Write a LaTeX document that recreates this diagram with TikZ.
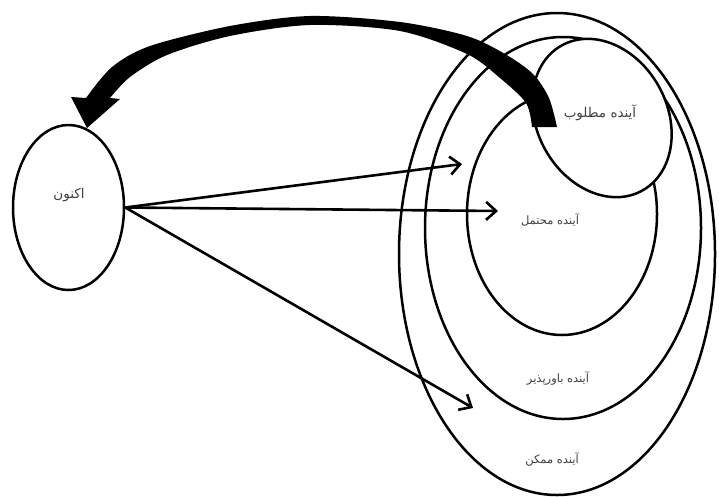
\documentclass[tikz,border=0pt]{standalone}
\usepackage{fontspec}
\TeXXeTstate=1
\newfontfamily\arabicfont[Script=Arabic]{DejaVu Sans}
\usetikzlibrary{shapes.geometric,arrows.meta}
\begin{document}
\begin{tikzpicture}[x=1pt,y=-1pt,
  ring/.style={ellipse,draw,line width=2.5pt,inner sep=0pt},
  ptr/.style={line width=2.6pt,-{Straight Barb[length=10pt,width=18pt]}},
  lbl/.style={font=\arabicfont\fontsize{11.5}{13}\selectfont,text=black!75,inner sep=0pt},
  biglbl/.style={lbl,font=\arabicfont\fontsize{13.5}{15}\selectfont}]
\useasboundingbox[fill=white] (0,0) rectangle (719,496);
% nested future ellipses
\node[ring,minimum width=316pt,minimum height=482pt] (possible) at (557,254) {};
\node[ring,minimum width=276pt,minimum height=382pt] (plausible) at (563,228) {};
\node[ring,minimum width=190pt,minimum height=242pt] (probable) at (562,214) {};
\node[ring,fill=white,minimum width=130pt,minimum height=166pt,rotate=29] (preferable) at (602,118) {};
% present
\node[ring,minimum width=111pt,minimum height=165pt] (now) at (68.5,207.5) {};
% arrow end points
\coordinate (t1) at (462,164);
\coordinate (t2) at (498,211);
\coordinate (t3) at (473,408);
\draw[ptr] (now.east) -- (t1);
\draw[ptr] (now.east) -- (t2);
\draw[ptr] (now.east) -- (t3);
% thick curved arrow back to present
\fill[black]
  plot[smooth] coordinates {(86,98) (112,67) (150,46) (230,26) (310,16) (400,22) (467,36) (505,54) (533,74) (549,98) (557,127)}
  -- (532,127)
  -- plot[smooth] coordinates {(532,127) (526,103) (500,78) (467,54) (400,31) (310,25) (230,36) (167,55) (130,77) (110,98)}
  -- (120,99) -- (87,128) -- (71,97) -- cycle;
% labels
\node[biglbl] (lpref) at (600,113) {\beginR آینده مطلوب\endR};
\node[lbl] (lprob) at (550,220) {\beginR آینده محتمل\endR};
\node[lbl] (lplau) at (558,378) {\beginR آینده باورپذیر\endR};
\node[lbl] (lposs) at (552,459) {\beginR آینده ممکن\endR};
\node[biglbl] (lnow) at (69,195) {\beginR اکنون\endR};
\end{tikzpicture}
\end{document}
